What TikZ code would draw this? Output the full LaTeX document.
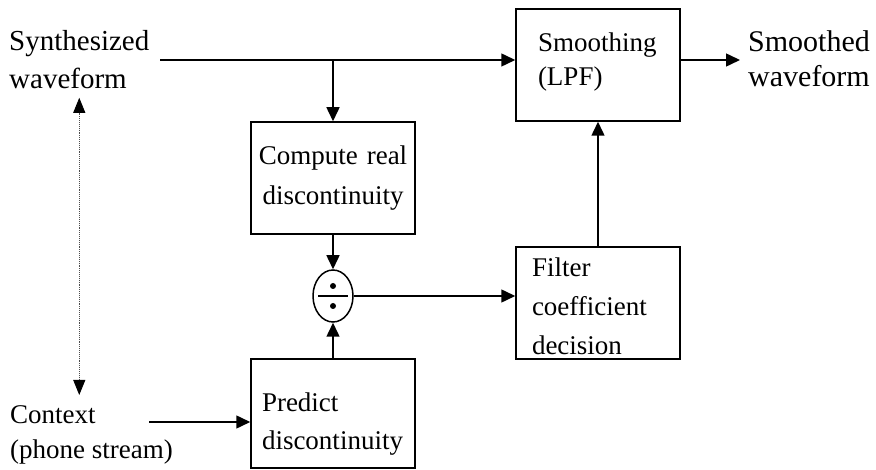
\documentclass[tikz,border=0pt]{standalone}
\usepackage{fontspec}
\setmainfont{Liberation Serif}
\usetikzlibrary{arrows.meta, shapes.geometric}

\begin{document}
\begin{tikzpicture}[x=1pt, y=-1pt,
    flow/.style={-{Triangle[length=14pt, width=13pt]}, line width=1.5pt},
    link/.style={{Triangle[length=15pt, width=12pt, color=black]}-{Triangle[length=15pt, width=12pt, color=black]},
        line width=0.9pt, gray!60!black, densely dotted},
    blk/.style={draw, line width=1.5pt, inner ysep=0pt, align=left},
    lbl/.style={inner sep=0pt, align=left, anchor=north west}]
    \useasboundingbox (0,0) rectangle (876,470);

    % Outside labels
    \node[lbl, font=\fontsize{29}{38}\selectfont] (syn) at (9,30) {Synthesized\\waveform};
    \node[lbl, font=\fontsize{30}{35}\selectfont] (smd) at (748,30) {Smoothed\\waveform};
    \node[lbl, font=\fontsize{27}{35}\selectfont] (ctx) at (10,405) {Context\\(phone stream)};

    % Blocks
    \node[blk, text width=120pt, inner xsep=22pt, text height=43pt, text depth=69pt,
        font=\fontsize{27}{34}\selectfont] (smooth) at (598,65) {Smoothing\\(LPF)};
    \node[blk, align=center, text width=162pt, inner xsep=1pt, text height=43pt, text depth=69pt,
        font=\fontsize{27}{40}\selectfont] (comp) at (333,178) {Compute real\\discontinuity};
    \node[blk, text width=132pt, inner xsep=16pt, text height=30pt, text depth=82pt,
        font=\fontsize{27}{39}\selectfont] (filt) at (598,303) {Filter\\coefficient\\decision};
    \node[blk, text width=142pt, inner xsep=11pt, text height=53pt, text depth=56pt,
        font=\fontsize{27}{38}\selectfont] (pred) at (333,413.5) {Predict\\discontinuity};

    % Divider
    \node[ellipse, draw, line width=1.5pt, minimum width=40pt, minimum height=52pt, inner sep=0pt] (div) at (333,296) {};
    \draw[line width=1.2pt] ([xshift=-15pt]div.center) -- ([xshift=15pt]div.center);
    \fill ([yshift=10pt]div.center) circle (3pt);
    \fill ([yshift=-10pt]div.center) circle (3pt);

    % Free ends
    \coordinate (synin) at (160,60);
    \coordinate (smdout) at (740,60);
    \coordinate (ctxin) at (149,422);

    % Connectors
    \draw[flow] (synin) -- (synin -| smooth.west);
    \draw[flow] (comp.north |- synin) -- (comp.north);
    \draw[flow] (smooth.east |- smdout) -- (smdout);
    \draw[flow] (comp.south) -- (div.north);
    \draw[flow] (pred.north) -- (div.south);
    \draw[flow] (div.east) -- (div.east -| filt.west);
    \draw[flow] (filt.north) -- (smooth.south);
    \draw[flow] (ctxin) -- (ctxin -| pred.west);
    \draw[link, shorten <=9pt, shorten >=10pt] (syn.south) -- (syn.south |- ctx.north);
\end{tikzpicture}
\end{document}
